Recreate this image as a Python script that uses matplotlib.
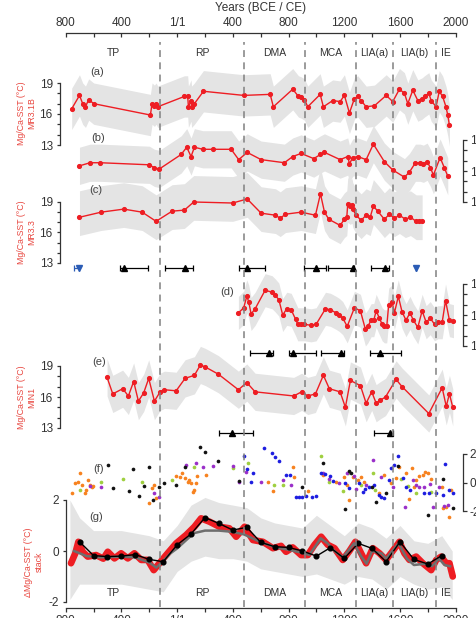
import numpy as np
import matplotlib
matplotlib.use('Agg')
import matplotlib.pyplot as plt
import matplotlib.transforms as mtransforms

# ---- data (years CE, negative = BCE) ----
periods = ['TP', 'RP', 'DMA', 'MCA', 'LIA(a)', 'LIA(b)', 'IE']
bounds = [-800, -120, 480, 920, 1285, 1550, 1860, 2000]

a_year = [-757, -701, -678, -658, -635, -599, -192, -180, -163, -151, -139, 52, 76, 81, 100, 104, 124, 189,
          478, 668, 691, 830, 871, 890, 914, 938, 1027, 1050, 1117, 1170, 1201, 1237, 1273, 1297, 1321, 1357,
          1417, 1501, 1548, 1596, 1632, 1656, 1692, 1728, 1759, 1776, 1807, 1824, 1859, 1882, 1906, 1930, 1943, 1955]
a_sst = [16.5, 17.8, 17.0, 16.7, 17.4, 17.0, 15.9, 17.0, 16.8, 17.0, 16.7, 17.7, 17.7, 16.7, 17.3, 16.7, 17.0, 18.2,
         17.8, 17.9, 16.7, 18.4, 17.7, 17.6, 17.4, 16.7, 17.9, 16.7, 17.3, 17.2, 17.8, 16.1, 17.5, 17.7, 17.3, 16.7,
         16.8, 17.8, 17.2, 18.4, 18.0, 17.0, 18.3, 17.3, 17.5, 17.7, 18.0, 17.3, 16.7, 18.2, 17.7, 16.7, 15.9, 14.9]

b_year = [-701, -625, -551, -199, -163, -127, 29, 69, 100, 124, 184, 261, 388, 442, 503, 603, 770, 830, 890, 981,
          1029, 1058, 1170, 1225, 1237, 1261, 1297, 1357, 1409, 1488, 1548, 1632, 1668, 1711, 1745, 1768, 1795,
          1819, 1840, 1888, 1919, 1943]
b_sst = [16.5, 16.8, 16.8, 16.6, 16.3, 16.2, 17.6, 18.3, 17.4, 18.3, 18.1, 18.1, 18.1, 17.1, 17.8, 17.1, 16.8, 17.4,
         17.7, 17.2, 17.6, 17.8, 17.1, 17.4, 16.7, 17.3, 17.4, 17.1, 18.6, 16.9, 16.1, 15.4, 15.9, 16.8, 16.8, 16.7,
         16.9, 16.3, 15.6, 17.3, 16.3, 15.5]

c_year = [-701, -546, -383, -251, -151, -36, 52, 119, 399, 503, 603, 706, 740, 778, 890, 993, 1029, 1058, 1089,
          1170, 1201, 1218, 1225, 1242, 1256, 1261, 1285, 1321, 1357, 1386, 1409, 1440, 1488, 1524, 1560, 1596,
          1639, 1675, 1716, 1735, 1759]
c_sst = [17.5, 18.0, 18.3, 18.0, 17.1, 18.1, 18.2, 19.0, 18.9, 19.3, 17.9, 17.7, 17.4, 17.8, 18.0, 17.7, 19.8, 18.0,
         17.3, 16.7, 17.3, 17.5, 18.8, 18.6, 18.7, 18.3, 17.7, 17.2, 17.7, 17.5, 18.6, 18.1, 17.3, 17.8, 17.4, 17.7,
         17.3, 17.5, 17.1, 17.1, 17.1]

d_year = [440, 478, 500, 514, 531, 560, 632, 682, 704, 730, 758, 787, 819, 850, 866, 890, 914, 962, 998, 1065,
          1101, 1142, 1165, 1189, 1221, 1273, 1316, 1352, 1369, 1393, 1412, 1429, 1452, 1472, 1488, 1505, 1519,
          1543, 1560, 1588, 1615, 1643, 1672, 1696, 1728, 1759, 1788, 1817, 1848, 1872, 1903, 1927, 1955, 1984]
d_sst = [16.2, 16.7, 17.8, 17.3, 16.1, 16.6, 18.4, 18.2, 17.9, 17.5, 16.0, 16.6, 16.5, 15.6, 15.1, 15.1, 15.1, 15.0,
         15.1, 16.6, 16.5, 16.2, 16.0, 15.7, 14.9, 16.7, 16.4, 14.6, 14.9, 15.5, 15.5, 16.4, 15.7, 15.1, 14.9, 14.9,
         17.0, 17.3, 16.2, 17.8, 16.3, 15.5, 16.2, 15.5, 14.8, 16.4, 15.3, 15.7, 15.1, 15.3, 15.3, 17.4, 15.5, 15.4]

e_year = [-503, -462, -391, -350, -312, -278, -240, -204, -163, -122, -91, -7, 57, 124, 167, 203, 297, 440, 500,
          560, 837, 894, 938, 993, 1050, 1093, 1170, 1208, 1244, 1316, 1357, 1397, 1429, 1460, 1496, 1572, 1615,
          1807, 1903, 1932, 1955, 1979]
e_sst = [17.9, 16.3, 16.8, 16.1, 17.5, 15.6, 16.4, 17.8, 15.6, 16.5, 16.7, 16.6, 17.8, 18.1, 19.1, 18.9, 18.2, 16.7,
         17.4, 16.5, 16.1, 16.5, 16.1, 16.3, 18.1, 16.8, 16.5, 15.0, 17.6, 17.1, 15.4, 16.5, 15.4, 15.7, 16.0, 17.7,
         17.0, 14.4, 16.9, 15.1, 16.3, 15.0]

# uncertainty envelopes (deg C above / below each record)
a_err = (2.0, 2.0)
b_err = (1.8, 1.8)
c_err = (2.6, 1.8)
d_err = (1.6, 1.6)
e_err = (1.8, 1.8)

# age control points: centre, minus, plus (years)
c_tie = [(-383, 26, 177), (57, 143, 60), (503, 61, 129), (998, 84, 72), (1261, 180, 12), (1493, 100, 31)]
c_tie_blue = [(-701, 36, 0), (1716, 0, 0)]
d_tie = [(661, 139, 30), (835, 29, 163), (1177, 143, 24), (1460, 74, 148)]
e_tie = [(395, 96, 148), (1531, 114, 17)]

# (f) normalised individual records
f_orange_year = [-754, -730, -713, -697, -682, -665, -653, -642, -625, -610, -601, -199, -180, -163, -151, -7, 21, 36,
                 60, 76, 88, 100, 112, 124, 136, 141, 208, 651, 687, 830, 842, 938, 1045, 1141, 1201, 1218, 1237,
                 1261, 1297, 1321, 1345, 1452, 1488, 1536, 1572, 1596, 1644, 1668, 1687, 1704, 1716, 1740, 1768,
                 1783, 1799, 1823, 1902, 1912, 1931, 1955, 1967]
f_orange = [-0.76, -0.01, 0.06, 0.64, -0.18, -0.76, -0.53, 0.17, -0.18, -0.29, -0.25, -1.46, -0.41, -0.18, -1.11,
            0.45, 0.41, 0.64, 0.29, 0.06, 0.17, -0.06, -0.65, -0.53, -0.01, 0.45, 0.52, 0.06, -0.58, 1.11, 0.41,
            -0.58, 0.52, 0.06, 0.41, -0.18, -1.23, 0.41, 0.17, 0.41, 0.06, -0.76, 0.52, -0.06, 0.29, 1.11, 0.64,
            -1.18, 0.99, -0.29, 0.17, 0.45, 0.52, 0.76, 0.64, 0.22, -0.29, -1.82, -1.70, -2.45, -0.53]
f_black_year = [-498, -462, -347, -314, -275, -235, -204, -175, -132, -91, -7, 60, 165, 203, 292, 447, 897, 1045,
                1208, 1237, 1249, 1400, 1428, 1500, 1584, 1804, 1907, 1979]
f_black = [1.23, -0.41, -0.58, 0.92, -0.95, -0.22, 1.11, -1.23, -0.34, -0.06, -0.18, 1.11, 2.51, 2.16, 1.53, 0.13,
           -0.29, 1.39, -1.89, 0.83, 0.64, -0.29, -1.35, -0.72, 1.16, -2.28, 0.22, -1.82]
f_purple_year = [-625, -546, -163, -127, 64, 136, 189, 256, 399, 442, 495, 603, 758, 818, 1045, 1093, 1165, 1218,
                 1273, 1285, 1357, 1409, 1464, 1548, 1637, 1692, 1716, 1740, 1775, 1816, 1835, 1883, 1919, 1943]
f_purple = [-0.25, -0.29, -0.76, -0.99, 1.23, 1.34, 1.11, 1.16, 1.16, 0.06, 0.76, 0.06, 0.17, -0.18, 0.64, 0.22,
            -0.01, 0.69, 0.45, -0.48, -0.18, 1.58, 0.41, -0.29, -1.70, 0.17, -0.18, -0.29, -0.29, -0.13, -1.70,
            -0.29, -1.65, -1.58]
f_green_year = [-697, -546, -386, -252, -36, 124, 399, 507, 698, 763, 1033, 1088, 1189, 1225, 1321, 1409, 1423,
                1608, 1656, 1716, 1823]
f_green = [-0.53, 0.06, 0.22, 0.06, 0.17, 1.11, 0.99, 1.34, -0.18, -0.18, 1.86, 0.06, -0.58, 0.64, -0.18, 0.69,
           -0.53, 0.22, -0.25, -0.76, -0.65]
f_blue_year = [483, 502, 531, 543, 627, 682, 706, 730, 782, 811, 854, 873, 897, 926, 969, 998, 1033, 1065, 1098,
               1122, 1208, 1232, 1309, 1338, 1352, 1381, 1416, 1448, 1464, 1488, 1524, 1536, 1555, 1589, 1620, 1644,
               1673, 1775, 1811, 1859, 1907, 1926, 1955, 1984]
f_blue = [1.86, 0.92, 0.06, 0.64, 2.40, 2.09, 1.81, 1.53, 0.52, 0.52, -0.99, -0.99, -0.99, -0.95, -1.04, -0.95,
          0.64, 0.57, 0.45, 0.13, -0.06, -0.41, -0.06, -0.65, -0.48, -0.29, -0.18, -0.88, -0.99, -1.11, 0.17, 0.99,
          1.23, 1.86, 0.29, -0.29, -0.53, -0.72, -0.76, -0.76, -0.88, 1.30, -0.53, -0.76]

# (g) stack
g_red_year = [-762, -731, -709, -678, -642, -582, -530, -498, -450, -402, -354, -307, -258, -211, -168, -127, -79,
              -7, 65, 124, 172, 232, 304, 375, 424, 484, 544, 616, 688, 746, 782, 830, 890, 938, 986, 1034, 1082,
              1130, 1189, 1237, 1280, 1321, 1357, 1405, 1453, 1500, 1548, 1596, 1632, 1668, 1716, 1764, 1824, 1860,
              1896, 1931, 1955, 1979]
g_red = [-0.48, -0.09, 0.36, -0.03, -0.22, -0.16, -0.30, -0.03, -0.29, -0.09, -0.29, -0.09, -0.35, -0.35, -0.75,
         -0.48, -0.16, 0.30, 0.63, 0.95, 1.28, 1.15, 0.95, 0.89, 0.56, 0.95, 0.43, 0.36, 0.11, 0.20, -0.03, 0.14,
         -0.16, -0.16, 0.24, 0.56, 0.24, 0.11, -0.35, 0.0, 0.36, -0.09, -0.48, 0.11, -0.09, -0.35, 0.0, 0.36,
         -0.09, -0.35, -0.22, -0.48, -0.75, -0.35, -0.22, -0.48, -0.48, -1.0]
g_grey_year = [-740, -650, -550, -400, -300, -200, -150, -110, -50, 0, 60, 120, 200, 300, 400, 480, 540, 600, 700,
               800, 880, 950, 1030, 1080, 1130, 1190, 1270, 1320, 1360, 1400, 1470, 1500, 1590, 1650, 1700, 1780,
               1830, 1880, 1920, 1960]
g_grey = [0.0, -0.2, -0.25, -0.22, -0.25, -0.45, -0.65, -0.45, -0.1, 0.1, 0.4, 0.7, 0.8, 0.8, 0.75, 0.65, 0.5,
          0.35, 0.15, 0.05, -0.05, -0.15, 0.5, 0.3, 0.0, -0.25, 0.3, -0.2, -0.5, 0.0, -0.1, -0.3, 0.3, -0.3, -0.55,
          -0.5, -0.6, -0.3, -0.55, -0.6]
g_year = [-700, -600, -500, -400, -300, -200, -100, 0, 100, 200, 300, 400, 500, 600, 700, 800, 900, 1000, 1100,
          1200, 1300, 1400, 1500, 1600, 1700, 1800, 1900]
g_black = [0.36, -0.18, -0.22, -0.20, -0.14, -0.33, -0.42, 0.24, 0.67, 1.31, 1.08, 0.82, 0.93, 0.34, 0.17, 0.14,
           0.0, -0.20, 0.13, -0.29, 0.30, 0.10, -0.42, 0.36, -0.33, -0.51, -0.18]
g_band_year = [-770, -700, -600, -500, -400, -300, -200, -100, 0, 100, 200, 300, 400, 500, 600, 700, 800, 900,
               1000, 1100, 1200, 1300, 1400, 1500, 1600, 1700, 1800, 1900, 1975]
g_band_hi = [2.0, 1.3, 0.8, 0.8, 0.8, 0.7, 0.6, 0.4, 1.0, 1.8, 2.1, 1.9, 1.8, 1.7, 1.3, 1.1, 1.0, 0.9, 1.4, 1.0,
             0.6, 1.1, 0.9, 0.5, 1.0, 0.4, 0.3, 0.6, 0.0]
g_band_lo = [-1.9, -1.3, -1.3, -1.3, -1.3, -1.4, -1.5, -1.6, -0.8, -0.4, -0.2, -0.3, -0.3, -0.4, -0.7, -0.8, -0.9,
             -1.0, -0.9, -1.1, -1.3, -1.0, -1.1, -1.5, -1.0, -1.3, -1.5, -1.4, -1.9]

year_ticks = [-800, -400, 0, 400, 800, 1200, 1600, 2000]
year_labels = ['800', '400', '1/1', '400', '800', '1200', '1600', '2000']

# ---- style ----
plt.rcParams['font.family'] = ['Liberation Sans', 'DejaVu Sans']
RED = '#ee1d23'
LAB = '#e8463f'
BAND = '#e4e4e4'
AX = '#333333'

W, H = 476, 618
fig = plt.figure(figsize=(W / 100, H / 100), dpi=100)

XL, XR = 65.7, 455.7   # pixel columns of 800 BCE / 2000 CE
YT, YB = 33, 608       # pixel rows of top / bottom year axes
PT = 72 / 100          # points per pixel


def panel(v_top, y_top, v_bot, y_bot):
    ax = fig.add_axes([XL / W, 1 - YB / H, (XR - XL) / W, (YB - YT) / H])
    s = (y_bot - y_top) / (v_top - v_bot)
    ax.set_ylim(v_bot - (YB - y_bot) / s, v_top + (y_top - YT) / s)
    ax.set_xlim(-800, 2000)
    ax.patch.set_visible(False)
    for sp in ax.spines.values():
        sp.set_visible(False)
    ax.set_xticks([])
    ax.set_yticks([])
    return ax


def yaxis(ax, side, lo, hi, major, minor, offset_px, labels=None):
    sp = ax.spines[side]
    sp.set_visible(True)
    sp.set_bounds(lo, hi)
    sp.set_position(('outward', offset_px * PT))
    sp.set_color(AX)
    sp.set_linewidth(0.9)
    if side == 'right':
        ax.yaxis.tick_right()
    else:
        ax.yaxis.tick_left()
    ax.set_yticks(major)
    if labels:
        ax.set_yticklabels(labels)
    ax.set_yticks(minor, minor=True)
    ax.tick_params(axis='y', which='both', length=3.5 * PT, width=0.9, color=AX,
                   labelsize=8.5, labelcolor=AX, pad=2.5)


def record(ax, yr, v, err):
    v = np.array(v)
    ax.fill_between(yr, v - err[1], v + err[0], color=BAND, lw=0, zorder=1)
    ax.plot(yr, v, color=RED, lw=1.0, marker='o', ms=2.7, zorder=3)


def ties(ax, rows, level, color='k', fmt='^'):
    x = [r[0] for r in rows]
    xe = [[r[1] for r in rows], [r[2] for r in rows]]
    ax.errorbar(x, np.full(len(x), level), xerr=xe, fmt=fmt, color=color, ms=4.5, capsize=2,
                elinewidth=0.9, capthick=0.9, zorder=4)


sst_major = [13, 16, 19]
sst_minor = [14, 15, 17, 18]

# (a)
ax = panel(19, 83, 13, 145)
record(ax, a_year, a_sst, a_err)
yaxis(ax, 'left', 13, 19, sst_major, sst_minor, 6)

# (b)
ax = panel(19, 140, 13, 202)
record(ax, b_year, b_sst, b_err)
yaxis(ax, 'right', 13, 19, sst_major, sst_minor, 7)

# (c)
ax = panel(19, 202, 13, 263)
record(ax, c_year, c_sst, c_err)
yaxis(ax, 'left', 13, 19, sst_major, sst_minor, 6)
ties(ax, c_tie, 12.5)
ties(ax, c_tie_blue, 12.5, color='#2b5cb5', fmt='v')

# (d)
ax = panel(19, 284, 13, 346)
record(ax, d_year, d_sst, d_err)
yaxis(ax, 'right', 13, 19, sst_major, sst_minor, 7)
ties(ax, d_tie, 12.3)

# (e)
ax = panel(19, 366, 13, 428)
record(ax, e_year, e_sst, e_err)
yaxis(ax, 'left', 13, 19, sst_major, sst_minor, 6)
ties(ax, e_tie, 12.5)

# (f)
ax = panel(2, 454, -2, 511)
for yr, v, col in [(f_orange_year, f_orange, '#f7821f'), (f_green_year, f_green, '#9fcf3f'),
                   (f_purple_year, f_purple, '#9a2fc9'), (f_blue_year, f_blue, '#1d1de0'),
                   (f_black_year, f_black, '#111111')]:
    ax.scatter(yr, v, s=7, color=col, lw=0, zorder=3)
yaxis(ax, 'right', -2, 2, [-2, 0, 2], [], 7, ['-2', '0', '2'])

# (g)
ax = panel(2, 500, -2, 602)
ax.fill_between(g_band_year, g_band_lo, g_band_hi, color=BAND, lw=0, zorder=1)
ax.plot(g_red_year, g_red, color=RED, lw=4.8, solid_capstyle='round', solid_joinstyle='round', zorder=2)
ax.plot(g_grey_year, g_grey, color='#6e6e6e', lw=1.8, zorder=3)
ax.plot(g_year, g_black, color='k', lw=1.0, marker='o', ms=3.4, zorder=4)
yaxis(ax, 'left', -2, 2, [-2, 0, 2], [], 0, ['-2', '0', '2'])
ax.spines['bottom'].set_visible(True)
ax.spines['bottom'].set_color(AX)
ax.spines['bottom'].set_linewidth(0.9)
ax.set_xticks(year_ticks)
ax.set_xticklabels(year_labels)
ax.set_xticks(np.arange(-600, 2000, 400), minor=True)
ax.tick_params(axis='x', which='both', direction='out', length=4 * PT, width=0.9, color=AX,
               labelsize=8.5, labelcolor=AX, pad=2)

# overlay: top year axis, period boundaries and names
ov = panel(1, YT, 0, YB)
ov.set_ylim(0, 1)
ov.spines['top'].set_visible(True)
ov.spines['top'].set_color(AX)
ov.spines['top'].set_linewidth(0.9)
ov.xaxis.tick_top()
ov.set_xticks(year_ticks)
ov.set_xticklabels(year_labels)
ov.set_xticks(np.arange(-600, 2000, 400), minor=True)
ov.tick_params(axis='x', which='both', direction='in', length=4 * PT, width=0.9, color=AX,
               labelsize=8.5, labelcolor=AX, pad=3)
ov.xaxis.set_label_position('top')
ov.set_xlabel('Years (BCE / CE)', fontsize=8.5, color=AX, labelpad=4)
ov.set_zorder(10)

for b in bounds[1:-1]:
    ov.axvline(b, ymin=0.002, ymax=1 - 9 / (YB - YT), color='#808080', lw=1.1, ls=(0, (4.5, 3.5)))

trans = mtransforms.blended_transform_factory(ov.transData, ov.transAxes)
for i, name in enumerate(periods):
    mid = (bounds[i] + bounds[i + 1]) / 2
    for yp in (53, 593):
        ov.text(mid, 1 - (yp - YT) / (YB - YT), name, transform=trans, ha='center', va='center',
                fontsize=7.5, color=AX)


def fx(x):
    return x / W


def fy(y):
    return 1 - y / H


for lab, x, y in [('(a)', 97, 72), ('(b)', 98, 138), ('(c)', 96, 190), ('(d)', 227, 292),
                  ('(e)', 99, 362), ('(f)', 99, 469), ('(g)', 96, 517)]:
    fig.text(fx(x), fy(y), lab, ha='center', va='center', fontsize=8, color='#444444')

for txt, x, y in [('Mg/Ca-SST (°C)\nMR3.1B', 27, 113), ('Mg/Ca-SST (°C)\nMR3.3', 27, 232),
                  ('Mg/Ca-SST (°C)\nMIN1', 27, 397), ('ΔMg/Ca-SST (°C)\nstack', 34, 562)]:
    fig.text(fx(x), fy(y), txt, rotation=90, ha='center', va='center', multialignment='center',
             fontsize=6.3, color=LAB, linespacing=1.15)

fig.savefig('out.png', dpi=100)
